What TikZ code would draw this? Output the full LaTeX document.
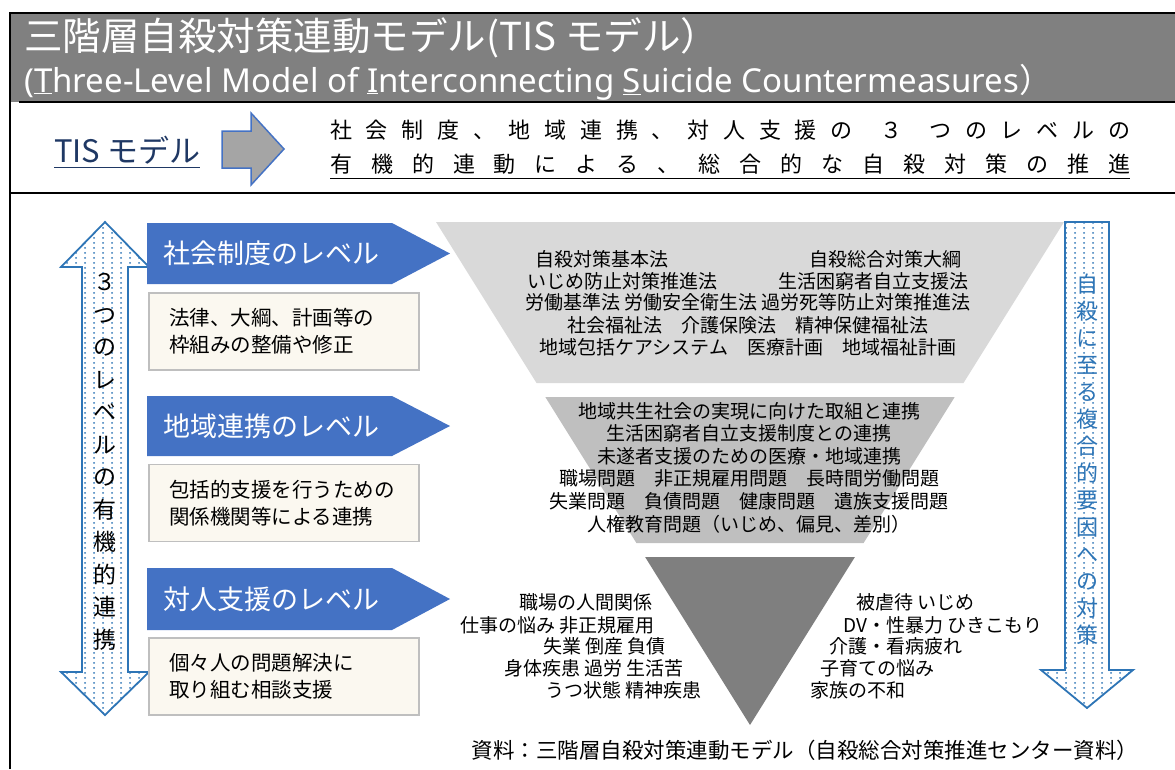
\documentclass[tikz,border=0pt]{standalone}
\usepackage{fontspec}
\setmainfont{Noto Sans CJK JP}
\newfontfamily\latinfont{Noto Sans}
\usetikzlibrary{patterns.meta}

\definecolor{bandgray}{HTML}{808080}
\definecolor{navy}{HTML}{1F3864}
\definecolor{arrowgray}{HTML}{A5A5A5}
\definecolor{levelblue}{HTML}{4472C4}
\definecolor{boxbeige}{HTML}{FBF8F0}
\definecolor{boxline}{HTML}{BFBFBF}
\definecolor{tierA}{HTML}{D9D9D9}
\definecolor{tierB}{HTML}{BFBFBF}
\definecolor{tierC}{HTML}{7F7F7F}
\definecolor{dotblue}{HTML}{2E75B6}

\tikzdeclarepattern{name=bluedots, type=uncolored,
  bounding box={(0pt,0pt) and (9pt,5pt)}, tile size={(9pt,5pt)},
  code={\fill (4.5pt,2.5pt) circle (1.15pt);}}

\begin{document}
\begin{tikzpicture}[x=1pt, y=-1pt,
    titlejp/.style={anchor=west, inner sep=0pt, text=white, font=\fontsize{38.5}{41}\selectfont},
    titleen/.style={anchor=west, inner sep=0pt, text=white, font=\latinfont\fontsize{33}{35}\selectfont},
    leadtext/.style={anchor=west, inner sep=0pt, font=\fontsize{22}{26}\selectfont},
    leveltext/.style={anchor=west, inner sep=0pt, text=white, font=\fontsize{27}{30}\selectfont},
    beigebox/.style={draw=boxline, line width=1.2pt, fill=boxbeige, minimum width=270pt,
      minimum height=77pt, text width=230pt, inner xsep=20pt, align=left,
      font=\fontsize{20.5}{27}\selectfont},
    lawtext/.style={inner sep=0pt, font=\fontsize{19}{22.6}\selectfont},
    dotarrow/.style={draw=dotblue, line width=1.8pt, pattern=bluedots, pattern color=dotblue},
    vtext/.style={inner sep=0pt, align=center}]
    \useasboundingbox (0,0) rectangle (1175,769);

    % 見出し
    \fill[bandgray] (10,13) rectangle (1175,102);
    \draw[line width=2pt] (10,769) -- (10,13) -- (1175,13);
    \draw[line width=2pt] (19,102) -- (1175,102);
    \draw[line width=2.5pt] (10,193) -- (1175,193);
    \node[titlejp] (title) at (24,38) {三階層自殺対策連動モデル(TIS モデル）};
    \node[titleen] (subtitle) at (24,82) {(\underline{T}hree-Level Model of \underline{I}nterconnecting \underline{S}uicide Countermeasures{\normalfont ）}};

    % TIS モデル
    \node[leadtext, text=navy, font=\fontsize{31}{34}\selectfont] (tis) at (54,150) {TIS モデル};
    \draw[navy, line width=1.5pt] ([yshift=-3pt]tis.south west) -- ([yshift=-3pt]tis.south east);
    \draw[levelblue, line width=1.5pt, fill=arrowgray] (222,131) -- (251,131) -- (251,113) -- (284,149)
      -- (251,185) -- (251,168) -- (222,168) -- cycle;
    \node[leadtext] (leadA) at (330,130) {\makebox[800pt][s]{社\hfill 会\hfill 制\hfill 度\hfill 、\hfill 地\hfill 域\hfill 連\hfill 携\hfill 、\hfill 対\hfill 人\hfill 支\hfill 援\hfill の\hfill\hfill ３\hfill\hfill つ\hfill の\hfill レ\hfill ベ\hfill ル\hfill の}};
    \node[leadtext] (leadB) at (330,164) {\makebox[800pt][s]{有\hfill 機\hfill 的\hfill 連\hfill 動\hfill に\hfill よ\hfill る\hfill 、\hfill 総\hfill 合\hfill 的\hfill な\hfill 自\hfill 殺\hfill 対\hfill 策\hfill の\hfill 推\hfill 進}};
    \draw[line width=1.5pt] ([yshift=-4pt]leadB.south west) -- ([yshift=-4pt]leadB.south east);

    % 左の両矢印
    \path[dotarrow] (105,222) -- (149,267) -- (128,267) -- (128,672) -- (149,672) -- (105,715)
      -- (61,672) -- (82,672) -- (82,267) -- (61,267) -- cycle;
    \node[vtext, font=\fontsize{23}{32.5}\selectfont] (linkL) at (105,462) {３\\つ\\の\\レ\\ベ\\ル\\の\\有\\機\\的\\連\\携};

    % 三つのレベル
    \fill[levelblue] (147,223) -- (392,223) -- (450,253.5) -- (392,284) -- (147,284) -- cycle;
    \fill[levelblue] (147,396) -- (392,396) -- (450,426) -- (392,456) -- (147,456) -- cycle;
    \fill[levelblue] (147,568) -- (392,568) -- (450,599) -- (392,630) -- (147,630) -- cycle;
    \node[leveltext] (lvA) at (163,253.5) {社会制度のレベル};
    \node[leveltext] (lvB) at (163,426) {地域連携のレベル};
    \node[leveltext] (lvC) at (163,599) {対人支援のレベル};
    \node[beigebox] (bxA) at (284,331.5) {法律、大綱、計画等の\\枠組みの整備や修正};
    \node[beigebox] (bxB) at (284,503) {包括的支援を行うための\\関係機関等による連携};
    \node[beigebox] (bxC) at (284,676.5) {個々人の問題解決に\\取り組む相談支援};

    % 逆三角形
    \fill[tierA] (436,222) -- (1064,222) -- (963.5,383) -- (536.5,383) -- cycle;
    \fill[tierB] (545.3,397) -- (954.7,397) -- (863.6,543) -- (636.4,543) -- cycle;
    \fill[tierC] (645.1,557) -- (854.9,557) -- (750,725) -- cycle;

    % 社会制度
    \node[lawtext, anchor=west] (lawA) at (535,259) {自殺対策基本法};
    \node[lawtext, anchor=east] (lawB) at (962,259) {自殺総合対策大綱};
    \node[lawtext, anchor=west] (lawC) at (527,281) {いじめ防止対策推進法};
    \node[lawtext, anchor=east] (lawD) at (969,281) {生活困窮者自立支援法};
    \node[lawtext, align=center] (lawE) at (748,325) {労働基準法 労働安全衛生法 過労死等防止対策推進法\\社会福祉法　介護保険法　精神保健福祉法\\地域包括ケアシステム　医療計画　地域福祉計画};

    % 地域連携
    \node[lawtext, align=center] (area) at (749,467.5) {地域共生社会の実現に向けた取組と連携\\生活困窮者自立支援制度との連携\\未遂者支援のための医療・地域連携\\職場問題　非正規雇用問題　長時間労働問題\\失業問題　負債問題　健康問題　遺族支援問題\\人権教育問題（いじめ、偏見、差別）};

    % 対人支援
    \node[lawtext, anchor=east] (pA) at (653,602) {職場の人間関係};
    \node[lawtext, anchor=east] (pB) at (655,625) {仕事の悩み 非正規雇用};
    \node[lawtext, anchor=east] (pC) at (666,646) {失業 倒産 負債};
    \node[lawtext, anchor=east] (pD) at (684,668) {身体疾患 過労 生活苦};
    \node[lawtext, anchor=east] (pE) at (702,690) {うつ状態 精神疾患};
    \node[lawtext, anchor=west] (qA) at (856,602) {被虐待 いじめ};
    \node[lawtext, anchor=west] (qB) at (843,625) {DV・性暴力 ひきこもり};
    \node[lawtext, anchor=west] (qC) at (829,646) {介護・看病疲れ};
    \node[lawtext, anchor=west] (qD) at (820,668) {子育ての悩み};
    \node[lawtext, anchor=west] (qE) at (810,690) {家族の不和};

    % 右の矢印
    \path[dotarrow] (1065,222) -- (1109,222) -- (1109,670) -- (1133,670) -- (1087,708)
      -- (1041,670) -- (1065,670) -- cycle;
    \node[vtext, text=dotblue, font=\fontsize{22}{27}\selectfont] (linkR) at (1087,460) {自\\殺\\に\\至\\る\\複\\合\\的\\要\\因\\へ\\の\\対\\策};

    % 資料
    \node[lawtext, font=\fontsize{21.5}{24}\selectfont] (src) at (805,750) {資料：三階層自殺対策連動モデル（自殺総合対策推進センター資料）};
\end{tikzpicture}
\end{document}
